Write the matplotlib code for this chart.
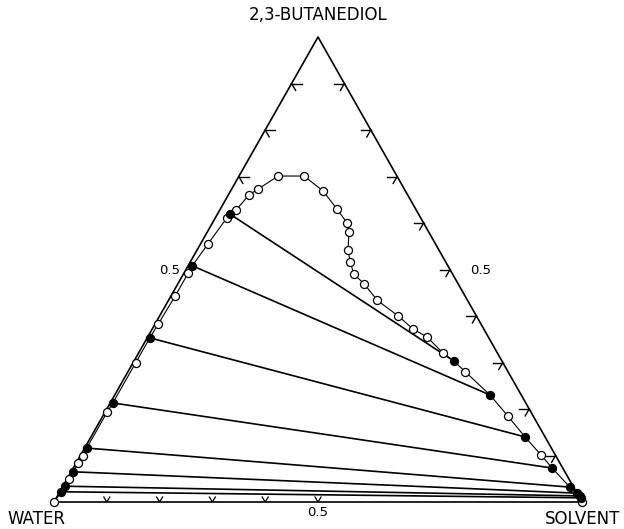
import numpy as np
import matplotlib.pyplot as plt

# binodal points in order along the curve (weight fractions), water = 1 - diol - solvent
curve_diol = [0.000, 0.022, 0.034, 0.049, 0.065, 0.084, 0.099, 0.116, 0.194, 0.213,
              0.299, 0.353, 0.383, 0.443, 0.492, 0.508, 0.555, 0.611, 0.619, 0.628,
              0.660, 0.673, 0.701, 0.701, 0.669, 0.630, 0.600, 0.581, 0.542, 0.516,
              0.490, 0.469, 0.434, 0.400, 0.372, 0.355, 0.320, 0.303, 0.280, 0.230,
              0.185, 0.140, 0.101, 0.073, 0.032, 0.019, 0.013, 0.009, 0.000]
curve_solv = [0.000, 0.003, 0.003, 0.004, 0.004, 0.004, 0.005, 0.004, 0.004, 0.005,
              0.005, 0.005, 0.006, 0.008, 0.008, 0.008, 0.014, 0.022, 0.024, 0.031,
              0.039, 0.050, 0.074, 0.123, 0.175, 0.221, 0.255, 0.268, 0.286, 0.303,
              0.323, 0.353, 0.395, 0.452, 0.494, 0.529, 0.577, 0.606, 0.639, 0.711,
              0.767, 0.822, 0.872, 0.907, 0.961, 0.981, 0.990, 0.994, 1.000]
# tie line number of each point (0 = solubility point only)
curve_tie = [0, 8, 7, 0, 6, 0, 0, 5, 0, 4,
             0, 3, 0, 0, 0, 2, 0, 0, 1, 0,
             0, 0, 0, 0, 0, 0, 0, 0, 0, 0,
             0, 0, 0, 0, 0, 0, 0, 1, 0, 2,
             0, 3, 0, 4, 5, 6, 7, 8, 0]

left_ticks = [0.7, 0.8, 0.9]
right_ticks = [0.1, 0.2, 0.3, 0.4, 0.5, 0.6, 0.7, 0.8, 0.9]
bottom_ticks = [0.1, 0.2, 0.3, 0.4, 0.5]

d = np.array(curve_diol)
s = np.array(curve_solv)
tie = np.array(curve_tie)
x = s + d / 2
y = d

fig = plt.figure(figsize=(6.24, 5.29), dpi=100)
ax = fig.add_axes([54 / 624, 27 / 529, 528 / 624, 465 / 529])
ax.set_xlim(0, 1)
ax.set_ylim(0, 1)
ax.axis('off')

px = 1 / 528
py = 1 / 465

# triangle
ax.plot([0, 1, 0.5, 0], [0, 0, 1, 0], color='k', lw=1.2, clip_on=False, zorder=2)

# ticks
c, sn = np.cos(np.pi / 3), np.sin(np.pi / 3)
for t in left_ticks:
    x0, y0 = t / 2, t
    ax.plot([x0, x0 + 10 * px], [y0, y0], color='k', lw=1.0)
    ax.plot([x0, x0 + 8 * c * px], [y0, y0 - 8 * sn * py], color='k', lw=1.0)
for t in right_ticks:
    x0, y0 = 1 - t / 2, t
    ax.plot([x0, x0 - 10 * px], [y0, y0], color='k', lw=1.0)
    ax.plot([x0, x0 - 8 * c * px], [y0, y0 - 8 * sn * py], color='k', lw=1.0)
for t in bottom_ticks:
    ax.plot([t - 3 * px, t, t + 3 * px], [5 * py, 0, 5 * py], color='k', lw=0.9)

# tie lines
for k in range(1, tie.max() + 1):
    i, j = np.where(tie == k)[0]
    ax.plot([x[i], x[j]], [y[i], y[j]], color='k', lw=1.2, zorder=3)

# binodal curve
ax.plot(x, y, color='k', lw=0.8, zorder=3)
m = tie == 0
ax.plot(x[m], y[m], 'o', ms=5.8, mfc='white', mec='k', mew=0.9, zorder=4, clip_on=False)
ax.plot(x[~m], y[~m], 'o', ms=5.8, mfc='k', mec='k', mew=0.9, zorder=5, clip_on=False)

fs = 12
ax.text(0.5, 1 + 22 * py, '2,3-BUTANEDIOL', ha='center', va='center', fontsize=fs)
ax.text(-47 * px, -17 * py, 'WATER', ha='left', va='center', fontsize=fs)
ax.text(1 + 38 * px, -17 * py, 'SOLVENT', ha='right', va='center', fontsize=fs)
ax.text(0.5, -11 * py, '0.5', ha='center', va='center', fontsize=9.5)
ax.text(0.238, 0.498, '0.5', ha='right', va='center', fontsize=9.5)
ax.text(0.788, 0.498, '0.5', ha='left', va='center', fontsize=9.5)

fig.savefig('out.png', dpi=100)
